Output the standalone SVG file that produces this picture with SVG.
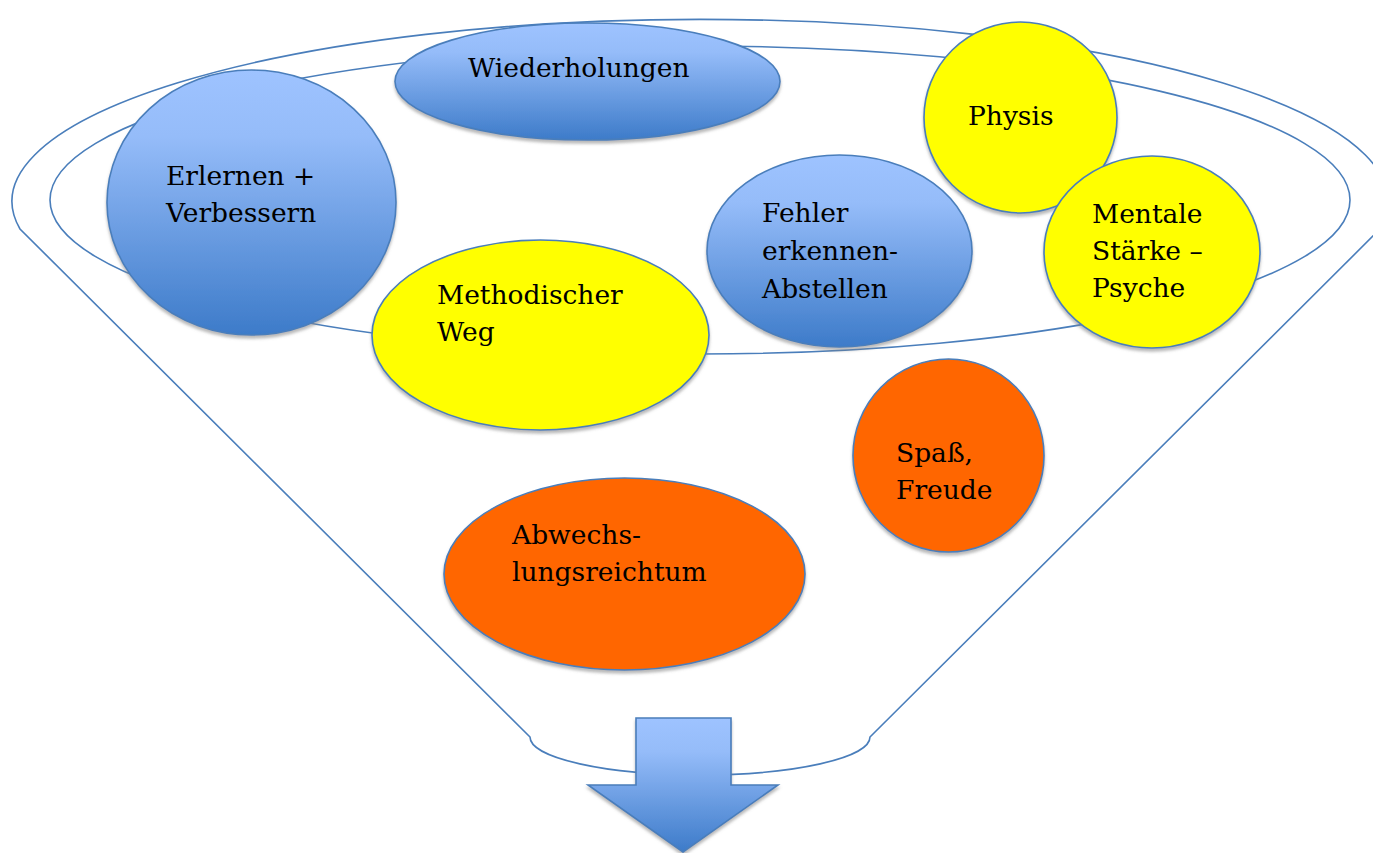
<svg xmlns="http://www.w3.org/2000/svg" width="1373" height="853" viewBox="0 0 1373 853">
<style>
.ln{fill:none;stroke:#4A7EBB;stroke-width:1.6}
.nd{stroke:#4A7EBB;stroke-width:1.6;filter:url(#sh)}
.blue{fill:url(#gb)}
.yel{fill:#FFFF00}
.org{fill:#FF6600}
text{font-family:"DejaVu Serif","Liberation Serif",serif;font-size:26.5px;fill:#000}
</style>
<defs>
<linearGradient id="gb" x1="0" y1="0" x2="0" y2="1">
<stop offset="0" stop-color="#9EC3FF"/>
<stop offset="0.25" stop-color="#95BCF9"/>
<stop offset="1" stop-color="#3D7BC9"/>
</linearGradient>
<filter id="sh" x="-10%" y="-10%" width="120%" height="125%">
<feDropShadow dx="0" dy="3" stdDeviation="1.5" flood-color="#808080" flood-opacity="0.55"/>
</filter>
</defs>
<g id="connectors">
<path class="ln" d="M 20 229 A 688 182 0 1 1 1380 229 L 870 737 A 170 38 0 0 1 530 737 Z"/>
<ellipse class="ln" cx="700" cy="200" rx="650" ry="154"/>
</g>
<g id="wiederholungen">
<ellipse class="nd blue" cx="587.5" cy="81.5" rx="192.5" ry="58.5"/>
<text x="468" y="77">Wiederholungen</text>
</g>
<g id="erlernen">
<ellipse class="nd blue" cx="251.5" cy="202.5" rx="144.5" ry="132.5"/>
<text x="166" y="185">Erlernen +</text>
<text x="166" y="222">Verbessern</text>
</g>
<g id="physis">
<ellipse class="nd yel" cx="1020.5" cy="117.5" rx="96.5" ry="95.5"/>
<text x="968" y="125">Physis</text>
</g>
<g id="fehler">
<ellipse class="nd blue" cx="839.5" cy="251" rx="132.5" ry="96"/>
<text x="762" y="222">Fehler</text>
<text x="762" y="260">erkennen-</text>
<text x="762" y="298">Abstellen</text>
</g>
<g id="mentale">
<ellipse class="nd yel" cx="1152" cy="252" rx="108" ry="96"/>
<text x="1092" y="223">Mentale</text>
<text x="1092" y="260">Stärke –</text>
<text x="1092" y="297">Psyche</text>
</g>
<g id="methodischer">
<ellipse class="nd yel" cx="540.5" cy="335" rx="168.5" ry="95"/>
<text x="437" y="304">Methodischer</text>
<text x="437" y="341">Weg</text>
</g>
<g id="spass">
<ellipse class="nd org" cx="948.5" cy="455.5" rx="95.5" ry="96.5"/>
<text x="896" y="462">Spaß,</text>
<text x="896" y="499">Freude</text>
</g>
<g id="abwechslung">
<ellipse class="nd org" cx="624.5" cy="574" rx="180.5" ry="96"/>
<text x="512" y="544">Abwechs-</text>
<text x="512" y="581">lungsreichtum</text>
</g>
<g id="arrow">
<path class="nd blue" d="M 636 718 L 731 718 L 731 785 L 778 785 L 683 852 L 588 785 L 636 785 Z"/>
</g>
</svg>
